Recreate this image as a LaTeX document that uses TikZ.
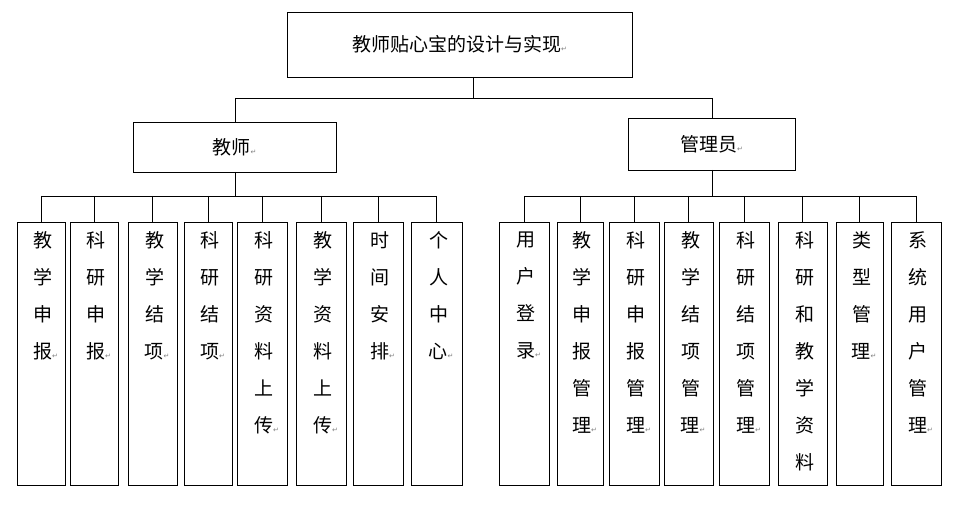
\documentclass[tikz,border=0pt]{standalone}
\usepackage{fontspec}
\newfontfamily\cjk{Noto Sans CJK SC}
\newfontfamily\dv{DejaVu Sans}
\newcommand{\pmark}{{\dv\fontsize{7}{7}\selectfont\color{gray}↵}}
\begin{document}
\begin{tikzpicture}[x=1pt,y=-1pt,
  box/.style={draw,line width=0.8pt,inner sep=0pt},
  vt/.style={anchor=north,align=center,text width=20pt,font=\cjk\fontsize{19}{37}\selectfont},
  ln/.style={line width=0.8pt}]
\useasboundingbox (0,0) rectangle (964,510);
\node[box,minimum width=345,minimum height=65,font=\cjk\fontsize{19}{22}\selectfont] (root) at (459.5,44.5) {教师贴心宝的设计与实现\pmark};
\node[box,minimum width=203,minimum height=50,font=\cjk\fontsize{19}{22}\selectfont] (t) at (234.5,147) {教师\pmark};
\node[box,minimum width=167,minimum height=52,font=\cjk\fontsize{19}{22}\selectfont] (a) at (711.5,144) {管理员\pmark};
\coordinate (rb) at (473,98);
\draw[ln] (473,77) -- (rb);
\draw[ln] (235,98) -- (712,98);
\draw[ln] (235,98) -- (235,122);
\draw[ln] (712,98) -- (712,118);
\draw[ln] (235,172) -- (235,196);
\draw[ln] (712,170) -- (712,196);
\draw[ln] (41,196) -- (437,196);
\draw[ln] (524,196) -- (916,196);
\foreach \l/\r/\txt/\n in {
 17/65/{教\\学\\申\\报\pmark}/t1,70/118/{科\\研\\申\\报\pmark}/t2,128/177/{教\\学\\结\\项\pmark}/t3,184/232/{科\\研\\结\\项\pmark}/t4,
 237/287/{科\\研\\资\\料\\上\\传\pmark}/t5,296/346/{教\\学\\资\\料\\上\\传\pmark}/t6,353/403/{时\\间\\安\\排\pmark}/t7,411/462/{个\\人\\中\\心\pmark}/t8}{
 \node[box,minimum width=\r-\l,minimum height=263] (\n) at ({(\l+\r)/2},353.5) {};
 \node[vt] at ({(\l+\r)/2+2},228) {\txt};
 \draw[ln] ({(\l+\r)/2},196) -- (\n.north);
}
\foreach \l/\r/\txt/\n in {
 499/549/{用\\户\\登\\录\pmark}/a1,557/603/{教\\学\\申\\报\\管\\理\pmark}/a2,609/659/{科\\研\\申\\报\\管\\理\pmark}/a3,664/713/{教\\学\\结\\项\\管\\理\pmark}/a4,
 719/769/{科\\研\\结\\项\\管\\理\pmark}/a5,778/827/{科\\研\\和\\教\\学\\资\\料}/a6,836/883/{类\\型\\管\\理\pmark}/a7,891/941/{系\\统\\用\\户\\管\\理\pmark}/a8}{
 \node[box,minimum width=\r-\l,minimum height=263] (\n) at ({(\l+\r)/2},353.5) {};
 \node[vt] at ({(\l+\r)/2+2},228) {\txt};
 \draw[ln] ({(\l+\r)/2},196) -- (\n.north);
}
\end{tikzpicture}
\end{document}
